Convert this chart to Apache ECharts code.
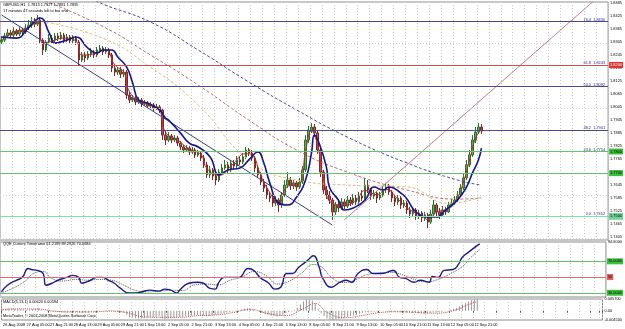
<!DOCTYPE html>
<html><head><meta charset="utf-8">
<script src="https://cdn.jsdelivr.net/npm/echarts@6/dist/echarts.min.js"></script>
<style>html,body{margin:0;padding:0;background:#fff}#c{width:625px;height:329px}</style>
</head><body><div id="c"></div>
<script>
// ---------- DATA ----------
const timeLabels = ['26 Aug 2008','27 Aug 05:00','27 Aug 21:00','28 Aug 13:00','29 Aug 05:00','29 Aug 21:00','1 Sep 13:00','2 Sep 05:00','2 Sep 21:00','3 Sep 13:00','4 Sep 05:00','4 Sep 21:00','5 Sep 13:00','8 Sep 05:00','8 Sep 21:00','9 Sep 13:00','10 Sep 05:00','10 Sep 21:00','11 Sep 13:00','12 Sep 05:00','12 Sep 21:00'];
const slotCount = 204;
// candles: [open, close, low, high]
const candles = [
[1.8306,1.8315,1.8297,1.8334],[1.8315,1.8334,1.8306,1.8348],[1.8334,1.8348,1.8324,1.8366],[1.8348,1.8338,1.8324,1.8361],
[1.8338,1.8357,1.8329,1.8375],[1.8357,1.8343,1.8334,1.8366],[1.8343,1.8361,1.8334,1.8375],[1.8361,1.8352,1.8338,1.8371],
[1.8352,1.8371,1.8343,1.8389],[1.8371,1.8384,1.8361,1.8408],[1.8384,1.8398,1.8371,1.8421],[1.8398,1.8389,1.8375,1.8417],
[1.8389,1.8408,1.8380,1.8431],[1.8408,1.8315,1.8297,1.8421],[1.8315,1.8269,1.8246,1.8324],[1.8269,1.8306,1.8260,1.8315],
[1.8306,1.8324,1.8297,1.8343],[1.8324,1.8315,1.8301,1.8338],[1.8315,1.8334,1.8306,1.8348],[1.8334,1.8324,1.8311,1.8348],
[1.8324,1.8338,1.8315,1.8352],[1.8338,1.8315,1.8301,1.8348],[1.8315,1.8329,1.8306,1.8343],[1.8329,1.8311,1.8297,1.8338],
[1.8311,1.8324,1.8301,1.8338],[1.8324,1.8306,1.8292,1.8334],[1.8306,1.8223,1.8200,1.8315],[1.8223,1.8246,1.8214,1.8260],
[1.8246,1.8232,1.8214,1.8260],[1.8232,1.8251,1.8223,1.8264],[1.8251,1.8260,1.8237,1.8278],[1.8260,1.8246,1.8232,1.8269],
[1.8246,1.8269,1.8237,1.8283],[1.8269,1.8278,1.8255,1.8292],[1.8278,1.8260,1.8246,1.8287],[1.8260,1.8269,1.8251,1.8283],
[1.8269,1.8246,1.8232,1.8278],[1.8246,1.8186,1.8167,1.8255],[1.8186,1.8167,1.8149,1.8200],[1.8167,1.8177,1.8153,1.8190],
[1.8177,1.8158,1.8140,1.8190],[1.8158,1.8167,1.8144,1.8181],[1.8167,1.8061,1.8043,1.8177],[1.8061,1.8038,1.8024,1.8075],
[1.8038,1.8047,1.8029,1.8061],[1.8047,1.8029,1.8015,1.8056],[1.8029,1.8038,1.8020,1.8052],[1.8038,1.8020,1.8006,1.8047],
[1.8020,1.8024,1.8010,1.8038],[1.8024,1.8010,1.7996,1.8033],[1.8010,1.8015,1.8001,1.8029],[1.8015,1.8001,1.7987,1.8024],
[1.8001,1.8006,1.7992,1.8020],[1.8006,1.7992,1.7978,1.8015],[1.7992,1.7876,1.7853,1.8001],[1.7876,1.7853,1.7830,1.7895],
[1.7853,1.7872,1.7844,1.7890],[1.7872,1.7853,1.7839,1.7881],[1.7853,1.7862,1.7844,1.7876],[1.7862,1.7839,1.7825,1.7872],
[1.7839,1.7821,1.7807,1.7849],[1.7821,1.7807,1.7793,1.7830],[1.7807,1.7816,1.7798,1.7830],[1.7816,1.7798,1.7784,1.7825],
[1.7798,1.7807,1.7789,1.7821],[1.7807,1.7784,1.7770,1.7816],[1.7784,1.7793,1.7775,1.7807],[1.7793,1.7770,1.7756,1.7802],
[1.7770,1.7738,1.7724,1.7784],[1.7738,1.7692,1.7678,1.7752],[1.7692,1.7715,1.7678,1.7733],[1.7715,1.7687,1.7668,1.7724],
[1.7687,1.7668,1.7645,1.7701],[1.7668,1.7705,1.7659,1.7719],[1.7705,1.7724,1.7692,1.7742],[1.7724,1.7738,1.7715,1.7761],
[1.7738,1.7715,1.7701,1.7752],[1.7715,1.7747,1.7705,1.7761],[1.7747,1.7733,1.7719,1.7761],[1.7733,1.7761,1.7724,1.7779],
[1.7761,1.7752,1.7738,1.7775],[1.7752,1.7775,1.7742,1.7793],[1.7775,1.7807,1.7765,1.7821],[1.7807,1.7793,1.7779,1.7816],
[1.7793,1.7770,1.7756,1.7807],[1.7770,1.7724,1.7705,1.7779],[1.7724,1.7692,1.7678,1.7738],[1.7692,1.7659,1.7645,1.7705],
[1.7659,1.7631,1.7613,1.7673],[1.7631,1.7599,1.7581,1.7645],[1.7599,1.7585,1.7567,1.7613],[1.7585,1.7562,1.7544,1.7599],
[1.7562,1.7576,1.7548,1.7594],[1.7576,1.7553,1.7521,1.7585],[1.7553,1.7599,1.7539,1.7613],[1.7599,1.7645,1.7590,1.7668],
[1.7645,1.7668,1.7631,1.7705],[1.7668,1.7641,1.7622,1.7682],[1.7641,1.7655,1.7627,1.7668],[1.7655,1.7636,1.7618,1.7664],
[1.7636,1.7659,1.7627,1.7678],[1.7659,1.7715,1.7650,1.7733],[1.7715,1.7853,1.7705,1.7876],[1.7853,1.7899,1.7839,1.7918],
[1.7899,1.7913,1.7886,1.7932],[1.7913,1.7886,1.7867,1.7927],[1.7886,1.7807,1.7789,1.7899],[1.7807,1.7705,1.7682,1.7821],
[1.7705,1.7622,1.7604,1.7715],[1.7622,1.7599,1.7581,1.7641],[1.7599,1.7576,1.7558,1.7618],[1.7576,1.7521,1.7484,1.7585],
[1.7521,1.7553,1.7507,1.7567],[1.7553,1.7539,1.7521,1.7576],[1.7539,1.7567,1.7530,1.7585],[1.7567,1.7548,1.7534,1.7581],
[1.7548,1.7576,1.7539,1.7594],[1.7576,1.7562,1.7548,1.7590],[1.7562,1.7585,1.7553,1.7604],[1.7585,1.7567,1.7553,1.7599],
[1.7567,1.7594,1.7558,1.7613],[1.7594,1.7585,1.7571,1.7622],[1.7585,1.7645,1.7576,1.7678],[1.7645,1.7622,1.7608,1.7668],
[1.7622,1.7594,1.7576,1.7631],[1.7594,1.7608,1.7581,1.7622],[1.7608,1.7585,1.7562,1.7618],[1.7585,1.7599,1.7576,1.7613],
[1.7599,1.7622,1.7590,1.7641],[1.7622,1.7636,1.7608,1.7655],[1.7636,1.7613,1.7599,1.7650],[1.7613,1.7585,1.7567,1.7622],
[1.7585,1.7567,1.7548,1.7599],[1.7567,1.7585,1.7553,1.7599],[1.7585,1.7553,1.7534,1.7594],[1.7553,1.7562,1.7539,1.7576],
[1.7562,1.7530,1.7511,1.7571],[1.7530,1.7511,1.7493,1.7544],[1.7511,1.7530,1.7502,1.7544],[1.7530,1.7502,1.7484,1.7539],
[1.7502,1.7516,1.7488,1.7530],[1.7516,1.7493,1.7474,1.7525],[1.7493,1.7507,1.7479,1.7521],[1.7507,1.7474,1.7446,1.7516],
[1.7474,1.7511,1.7465,1.7530],[1.7511,1.7553,1.7502,1.7576],[1.7553,1.7521,1.7502,1.7562],[1.7521,1.7507,1.7488,1.7539],
[1.7507,1.7530,1.7497,1.7548],[1.7530,1.7521,1.7507,1.7544],[1.7521,1.7553,1.7516,1.7567],[1.7553,1.7562,1.7544,1.7581],
[1.7562,1.7576,1.7553,1.7594],[1.7576,1.7599,1.7567,1.7618],[1.7599,1.7631,1.7590,1.7650],[1.7631,1.7678,1.7622,1.7696],
[1.7678,1.7738,1.7668,1.7761],[1.7738,1.7784,1.7728,1.7807],[1.7784,1.7853,1.7775,1.7876],[1.7853,1.7890,1.7839,1.7913],
[1.7890,1.7913,1.7881,1.7932],[1.7913,1.7895,1.7881,1.7927]
];
// navy moving average (bar index, price)
const navyIdx = [0,5,9,13,16,18,22,25,29,32,34,37,39,42,44,46,49,53,55,56,60,63,66,70,73,76,80,83,86,88,90,93,96,99,102,104,105,107,109,110,113,115,118,122,125,128,130,134,136,139,143,146,149,153,156,158,160,161];
const navyVal = [1.8329,1.8324,1.8371,1.8417,1.8348,1.8301,1.8315,1.8329,1.8278,1.8255,1.8269,1.8269,1.8237,1.8190,1.8117,1.8038,1.8024,1.7992,1.7955,1.7946,1.7886,1.7839,1.7821,1.7775,1.7692,1.7715,1.7724,1.7761,1.7798,1.7747,1.7655,1.7562,1.7553,1.7590,1.7668,1.7793,1.7876,1.7821,1.7728,1.7636,1.7576,1.7530,1.7539,1.7576,1.7636,1.7622,1.7636,1.7608,1.7581,1.7521,1.7497,1.7497,1.7530,1.7576,1.7636,1.7701,1.7761,1.7816];
// fast red line
const redIdx = [0,4,8,12,14,17,21,25,27,31,35,38,41,43,47,51,53,55,59,63,67,69,73,77,82,84,87,90,93,96,100,102,104,106,108,111,115,119,122,126,129,133,137,141,143,146,150,153,155,157,159,161];
const redVal = [1.8315,1.8352,1.8366,1.8398,1.8297,1.8311,1.8324,1.8311,1.8246,1.8251,1.8269,1.8200,1.8167,1.8075,1.8029,1.8010,1.7997,1.7890,1.7853,1.7812,1.7784,1.7720,1.7690,1.7733,1.7790,1.7784,1.7690,1.7610,1.7562,1.7640,1.7650,1.7800,1.7895,1.7830,1.7680,1.7560,1.7553,1.7575,1.7620,1.7600,1.7625,1.7580,1.7530,1.7505,1.7485,1.7520,1.7535,1.7585,1.7660,1.7760,1.7860,1.7905];
// long moving averages (dashed)
const ma200Idx = [20,31,50,66,83,99,116,136,153,161];
const ma200Val = [1.8592,1.8500,1.8398,1.8269,1.8121,1.7992,1.7867,1.7747,1.7668,1.7645];
const ma100Idx = [10,33,50,66,83,99,116,136,153,161];
const ma100Val = [1.8520,1.8385,1.8246,1.8107,1.7945,1.7807,1.7705,1.7622,1.7580,1.7585];
const ma50Idx = [10,33,50,66,83,99,116,136,150,161];
const ma50Val = [1.8410,1.8329,1.8190,1.8015,1.7761,1.7668,1.7645,1.7636,1.7560,1.7590];
// trend lines [idx, price]
const channelLine = [[0,1.8431],[111,1.7460]];
const riseLine = [[115,1.7484],[199,1.8500]];
// horizontal levels
const fibPct = ['0.0','23.6','38.2','50.0','61.8','76.4'];
const fibPrice = [1.7452,1.7754,1.7941,1.8092,1.8243,1.8430];
const redLevel = 1.8195;
const greenLevels = [1.7830,1.7655,1.7470];
const aquaLevel = 1.7516;
const lastPrice = 1.7890;
const priceTicks = [1.8485,1.8425,1.8365,1.8305,1.8245,1.8185,1.8125,1.8065,1.8005,1.7945,1.7885,1.7825,1.7765,1.7705,1.7645,1.7585,1.7525,1.7465,1.7405];
// QQE
const qqeIdx = [0,2,5,7,9,10,12,14,15,17,19,22,24,26,27,30,32,34,36,38,40,43,45,47,50,53,55,57,59,60,63,66,68,70,72,73,75,77,80,83,85,87,90,92,94,96,98,100,103,105,107,108,111,114,116,118,120,123,125,128,132,134,136,139,141,144,145,147,149,152,154,155,157,160,161];
const qqeVal = [31.2,39.6,45.9,49.6,60.9,59.6,58.4,54.6,39.6,42.1,45.9,49.6,52.1,49.6,42.1,45.9,49.6,49.6,45.9,42.1,35.9,29.6,29.6,30.9,33.4,32.1,34.6,33.4,29.6,33.4,42.1,43.4,42.1,35.9,34.6,42.1,49.6,49.6,49.6,60.9,58.4,49.6,42.1,34.6,37.1,54.6,54.6,62.1,70.9,77.1,62.1,49.6,37.1,43.4,45.9,43.4,54.6,59.6,54.6,54.6,58.4,49.6,48.4,43.4,45.9,43.4,50.9,49.6,58.4,59.6,67.1,74.6,80.9,89.6,92.1];
const qqeSlowIdx = [0,4,8,11,14,17,21,25,29,33,37,41,45,49,53,57,61,65,69,73,77,81,85,89,93,97,101,105,108,111,115,119,123,127,131,135,139,143,147,151,155,158,161];
const qqeSlowVal = [30,36,45,55,57,48,45,47,46,47,46,40,33,31,32,33,33,40,41,40,46,50,57,52,41,45,55,66,62,50,43,46,53,55,56,53,47,44,47,54,63,75,85];
const qqeLevels = [70,50,30];
// MACD histogram per bar and signal
const macdHist = [0.0008,0.0010,0.0012,0.0012,0.0010,0.0009,0.0008,0.0006,0.0005,0.0006,0.0008,0.0010,0.0012,0.0005,-0.0002,-0.0003,
-0.0004,-0.0005,-0.0005,-0.0006,-0.0007,-0.0008,-0.0008,-0.0007,-0.0006,-0.0006,-0.0008,-0.0011,
-0.0009,-0.0008,-0.0006,-0.0005,-0.0003,-0.0002,0.0000,0.0002,0.0003,0.0002,-0.0004,-0.0006,-0.0008,
-0.0009,-0.0019,-0.0030,-0.0034,-0.0036,-0.0038,-0.0036,-0.0035,-0.0033,-0.0032,
-0.0030,-0.0029,-0.0027,-0.0038,-0.0041,-0.0039,-0.0036,-0.0034,-0.0032,-0.0030,-0.0029,-0.0027,
-0.0026,-0.0024,-0.0023,-0.0021,-0.0023,-0.0024,-0.0027,-0.0026,-0.0023,-0.0021,-0.0018,-0.0015,-0.0012,-0.0009,-0.0006,-0.0004,
-0.0002,0.0002,0.0006,0.0010,0.0012,0.0010,0.0006,0.0000,-0.0006,-0.0011,
-0.0017,-0.0021,-0.0024,-0.0027,-0.0029,-0.0026,-0.0019,-0.0011,
-0.0006,-0.0002,0.0005,0.0012,0.0030,0.0045,0.0055,0.0055,0.0050,
0.0035,0.0010,-0.0011,-0.0026,-0.0038,-0.0045,-0.0045,-0.0044,-0.0041,-0.0038,-0.0034,-0.0030,-0.0026,
-0.0023,-0.0019,-0.0015,-0.0012,-0.0009,-0.0008,-0.0006,-0.0005,-0.0004,-0.0003,-0.0003,-0.0004,-0.0005,-0.0005,-0.0005,-0.0006,-0.0007,
-0.0008,-0.0009,-0.0010,-0.0011,-0.0011,-0.0012,-0.0014,-0.0015,-0.0014,-0.0011,-0.0009,-0.0008,-0.0006,-0.0005,-0.0003,
0.0000,0.0005,0.0010,0.0015,0.0022,0.0030,0.0038,0.0045,0.0052,0.0056,0.0057];
const sigIdx = [0,6,12,18,24,30,36,42,48,54,60,66,72,78,84,90,96,102,106,110,116,122,128,134,140,146,152,158,161];
const sigVal = [0.0006,0.0009,0.0008,-0.0003,-0.0006,-0.0006,-0.0002,-0.0009,-0.0030,-0.0032,-0.0032,-0.0024,-0.0021,-0.0009,0.0006,-0.0014,-0.0023,0.0010,0.0035,-0.0008,-0.0034,-0.0023,-0.0009,-0.0005,-0.0008,-0.0012,-0.0003,0.0030,0.0045];
const macdRange = [-0.0045, 0.0057];
const qqeRange = [24.6, 94.6];
const priceRange = [1.7391, 1.8491];

// ---------- CHART ----------
const cats = [];
for (let i = 0; i < slotCount; i++) cats.push(i % 8 === 0 && i / 8 < timeLabels.length ? timeLabels[i / 8] : '');
const pairs = (a, b) => a.map((x, k) => [x, b[k]]);
const FONT = 'Liberation Sans';
const FS = 3.9;
const tiny = {fontSize: FS, fontFamily: FONT, color: '#000'};
const grids = [
  {left: 0, right: 13, top: 2, height: 238},
  {left: 0, right: 13, top: 242, height: 55},
  {left: 0, right: 13, top: 299, height: 21}
].map(g => Object.assign(g, {show: true, borderColor: '#8c8c8c', borderWidth: 1, backgroundColor: '#fff'}));
const vGrid = {show: true, interval: 3, lineStyle: {color: '#c9c9c9', type: [1, 2], width: 1}};
const xAxes = [];
[0, 1, 2].forEach(g => {
  xAxes.push({type: 'category', gridIndex: g, data: cats, boundaryGap: true,
    axisLine: {show: false}, axisTick: {show: g === 2, interval: 7, length: 2, lineStyle: {color: '#555'}},
    axisLabel: g === 2 ? Object.assign({show: true, interval: 0, align: 'left', margin: 3}, tiny) : {show: false},
    splitLine: vGrid});
  xAxes.push({type: 'value', gridIndex: g, min: -0.5, max: slotCount - 0.5, show: false});
});
const yAxes = [
  {type: 'value', gridIndex: 0, position: 'right', min: priceRange[0], max: priceRange[1], scale: true,
    axisLine: {show: false}, axisTick: {show: false}, splitLine: {show: false},
    axisLabel: Object.assign({customValues: priceTicks, margin: 2, formatter: v => v.toFixed(4)}, tiny)},
  {type: 'value', gridIndex: 1, position: 'right', min: qqeRange[0], max: qqeRange[1],
    axisLine: {show: false}, axisTick: {show: false}, splitLine: {show: false},
    axisLabel: Object.assign({customValues: [qqeRange[1]], margin: 2, formatter: v => v.toFixed(4)}, tiny)},
  {type: 'value', gridIndex: 2, position: 'right', min: macdRange[0], max: macdRange[1],
    axisLine: {show: false}, axisTick: {show: false}, splitLine: {show: false},
    axisLabel: Object.assign({customValues: [macdRange[1], 0, macdRange[0]], margin: 2,
      formatter: v => v === 0 ? '0.00' : v.toFixed(6)}, tiny)}
];
const hLine = (y, color, extra) => Object.assign({yAxis: y, lineStyle: {color: color, type: 'solid', width: 1}}, extra || {});
const boxLabel = (bg, fg, fmt) => ({show: true, position: 'end', distance: 1, backgroundColor: bg, color: fg, padding: [1, 1],
  fontSize: FS, fontFamily: FONT, formatter: fmt || (p => p.value.toFixed(4))});
const mainLevels = [];
fibPrice.forEach((p, k) => mainLevels.push(hLine(p, k === 4 ? '#7b7bc4' : '#4a4a8e', {
  label: {show: true, position: 'insideEndTop', distance: [3, 0], color: '#2a2a8a', fontSize: FS, fontFamily: FONT,
    formatter: fibPct[k] + '  ' + p.toFixed(4)}})));
mainLevels.push(hLine(redLevel, '#c85050', {label: boxLabel('#e03030', '#fff')}));
greenLevels.forEach(p => mainLevels.push(hLine(p, '#66c266', {label: boxLabel('#3cc03c', '#000')})));
mainLevels.push(hLine(aquaLevel, '#7fe0a8', {label: boxLabel('#6ad69a', '#000')}));
mainLevels.push({yAxis: lastPrice, lineStyle: {opacity: 0}, label: boxLabel('#000', '#fff')});

const series = [
  {type: 'line', xAxisIndex: 1, yAxisIndex: 0, data: [], silent: true,
    markLine: {silent: true, symbol: 'none', animation: false, label: {show: false},
      lineStyle: {color: '#cfcfcf', type: [1, 2], width: 1}, data: priceTicks.map(p => ({yAxis: p}))}},
  {type: 'line', xAxisIndex: 1, yAxisIndex: 0, data: [], silent: true,
    markLine: {silent: true, symbol: 'none', animation: false, data: mainLevels}},
  {type: 'line', xAxisIndex: 1, yAxisIndex: 0, data: pairs(ma200Idx, ma200Val), smooth: true, symbol: 'none',
    lineStyle: {color: '#4a4aa0', width: 1, type: [3, 2]}},
  {type: 'line', xAxisIndex: 1, yAxisIndex: 0, data: pairs(ma100Idx, ma100Val), smooth: true, symbol: 'none',
    lineStyle: {color: '#c46a6a', width: 1, type: [3, 2]}},
  {type: 'line', xAxisIndex: 1, yAxisIndex: 0, data: pairs(ma50Idx, ma50Val), smooth: true, symbol: 'none',
    lineStyle: {color: '#d8c27a', width: 1, type: [3, 2]}},
  {type: 'line', xAxisIndex: 1, yAxisIndex: 0, data: channelLine, symbol: 'none', lineStyle: {color: '#3c3c8c', width: 1}},
  {type: 'line', xAxisIndex: 1, yAxisIndex: 0, data: riseLine, symbol: 'none', lineStyle: {color: '#c07a86', width: 1}},
  {type: 'candlestick', xAxisIndex: 0, yAxisIndex: 0, data: candles, barWidth: 2,
    itemStyle: {color: '#58b058', color0: '#b85454', borderColor: '#2f6f2f', borderColor0: '#7a2a2a', borderWidth: 1}},
  {type: 'line', xAxisIndex: 1, yAxisIndex: 0, data: pairs(redIdx, redVal), smooth: true, symbol: 'none',
    lineStyle: {color: '#b23030', width: 1}},
  {type: 'line', xAxisIndex: 1, yAxisIndex: 0, data: pairs(navyIdx, navyVal), smooth: true, symbol: 'none',
    lineStyle: {color: '#16168a', width: 1.6},
    markPoint: {symbol: 'none', data: [{coord: [163, 1.7895], label: {show: true, formatter: '-27.40°', color: '#c040c0', fontSize: FS, fontFamily: FONT, position: 'right'}}]}},
  // QQE
  {type: 'line', xAxisIndex: 3, yAxisIndex: 1, data: [], silent: true,
    markLine: {silent: true, symbol: 'none', animation: false, data: [
      hLine(qqeLevels[0], '#66c266', {label: boxLabel('#3cc03c', '#000', qqeLevels[0].toFixed(4))}),
      hLine(qqeLevels[1], '#d07070', {label: boxLabel('#e06060', '#000', qqeLevels[1].toFixed(0))}),
      hLine(qqeLevels[2], '#66c266', {label: boxLabel('#3cc03c', '#000', qqeLevels[2].toFixed(4))})]}},
  {type: 'line', xAxisIndex: 3, yAxisIndex: 1, data: pairs(qqeSlowIdx, qqeSlowVal), smooth: true, symbol: 'none',
    lineStyle: {color: '#555', width: 1, type: [1, 1]}},
  {type: 'line', xAxisIndex: 3, yAxisIndex: 1, data: pairs(qqeIdx, qqeVal), smooth: true, symbol: 'none',
    lineStyle: {color: '#1a1a8e', width: 1.4}},
  // MACD
  {type: 'bar', xAxisIndex: 4, yAxisIndex: 2, data: macdHist, barWidth: 1, itemStyle: {color: '#9a9a9a'}},
  {type: 'line', xAxisIndex: 5, yAxisIndex: 2, data: pairs(sigIdx, sigVal), smooth: true, symbol: 'none',
    lineStyle: {color: '#c05050', width: 1, type: [1, 1]}}
];
const ttl = (text, top) => ({text: text, left: 3, top: top, padding: 0, textStyle: Object.assign({fontWeight: 'normal'}, tiny)});
const option = {
  animation: false,
  backgroundColor: '#fff',
  title: [
    ttl('GBPUSD,H1  1.7913 1.7927 1.7881 1.7895', 3),
    ttl('17 minutes 47 seconds left to bar end', 9),
    ttl('QQE Current Timeframe 61.2199 89.2926 70.0684', 242),
    ttl('MACD(5,13,1) 0.00620 0.00594', 300),
    ttl('MetaTrader, © 2001-2008 MetaQuotes Software Corp.', 314)
  ],
  grid: grids, xAxis: xAxes, yAxis: yAxes, series: series
};
const chart = echarts.init(document.getElementById('c'), null, {renderer: 'canvas'});
chart.setOption(option);
</script></body></html>
